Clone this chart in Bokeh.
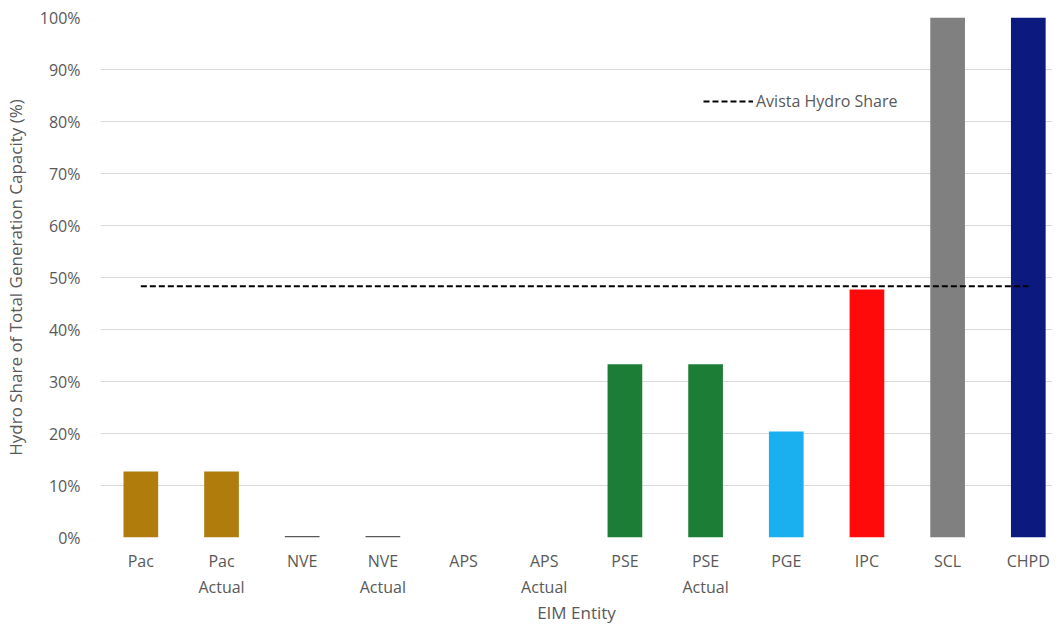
from bokeh.plotting import figure
from bokeh.models import ColumnDataSource, Range1d, NumeralTickFormatter, FixedTicker, Legend, LegendItem
from bokeh.embed import file_html
from bokeh.resources import INLINE

entities = ["Pac", "Pac\nActual", "NVE", "NVE\nActual", "APS", "APS\nActual",
            "PSE", "PSE\nActual", "PGE", "IPC", "SCL", "CHPD"]
hydro_share = [0.127, 0.127, 0.003, 0.003, 0.0, 0.0, 0.333, 0.333, 0.204, 0.477, 1.0, 1.0]
bar_colors = ["#B07D0C", "#B07D0C", "#595959", "#595959", "#595959", "#595959",
              "#1C7D36", "#1C7D36", "#1AAFEF", "#FF0A0A", "#808080", "#0C1A80"]
avista_share = 0.483
y_ticks = [0, 0.1, 0.2, 0.3, 0.4, 0.5, 0.6, 0.7, 0.8, 0.9, 1.0]

FONT = "Open Sans"
TXT = "#595959"

pos = list(range(len(entities)))
src = ColumnDataSource(dict(x=pos, top=hydro_share, color=bar_colors))

p = figure(x_range=Range1d(-0.5, 11.3), y_range=Range1d(0, 1.0), width=1052, height=626,
           output_backend="svg", toolbar_location=None,
           min_border_left=99, min_border_right=0, min_border_top=17, min_border_bottom=89)
p.outline_line_color = None
p.background_fill_color = "white"

p.vbar(x="x", top="top", width=0.43, color="color", line_color=None, source=src)

ln = p.line(x=[pos[0], pos[-1]], y=[avista_share, avista_share],
            line_color="black", line_width=2, line_dash="6 3")

legend = Legend(items=[LegendItem(label="Avista Hydro Share", renderers=[ln])],
                location=(603, 425), orientation="vertical")
legend.glyph_width = 50
legend.glyph_height = 20
legend.label_text_font = FONT
legend.label_text_font_size = "16px"
legend.label_text_color = TXT
legend.border_line_color = None
legend.background_fill_alpha = 0
legend.padding = 0
legend.margin = 0
legend.label_standoff = 3
p.add_layout(legend, "center")

p.xaxis.ticker = FixedTicker(ticks=pos)
p.xaxis.major_label_overrides = {i: e for i, e in zip(pos, entities)}
p.yaxis.ticker = FixedTicker(ticks=y_ticks)
p.yaxis.formatter = NumeralTickFormatter(format="0%")
p.ygrid.ticker = FixedTicker(ticks=y_ticks)
p.ygrid.grid_line_color = "#D9D9D9"
p.ygrid.grid_line_width = 1
p.xgrid.grid_line_color = None

for ax in (p.xaxis, p.yaxis):
    ax.axis_line_color = None
    ax.major_tick_line_color = None
    ax.minor_tick_line_color = None
    ax.major_tick_out = 0
    ax.major_label_text_font = FONT
    ax.major_label_text_font_size = "16px"
    ax.major_label_text_color = TXT
    ax.axis_label_text_font = FONT
    ax.axis_label_text_font_size = "17px"
    ax.axis_label_text_font_style = "normal"
    ax.axis_label_text_color = TXT

p.xaxis.axis_label = "EIM Entity"
p.yaxis.axis_label = "Hydro Share of Total Generation Capacity (%)"
p.xaxis.major_label_standoff = 12
p.yaxis.major_label_standoff = 20
p.xaxis.axis_label_standoff = 0
p.yaxis.axis_label_standoff = 10

open("out.html", "w").write(file_html(p, INLINE))
